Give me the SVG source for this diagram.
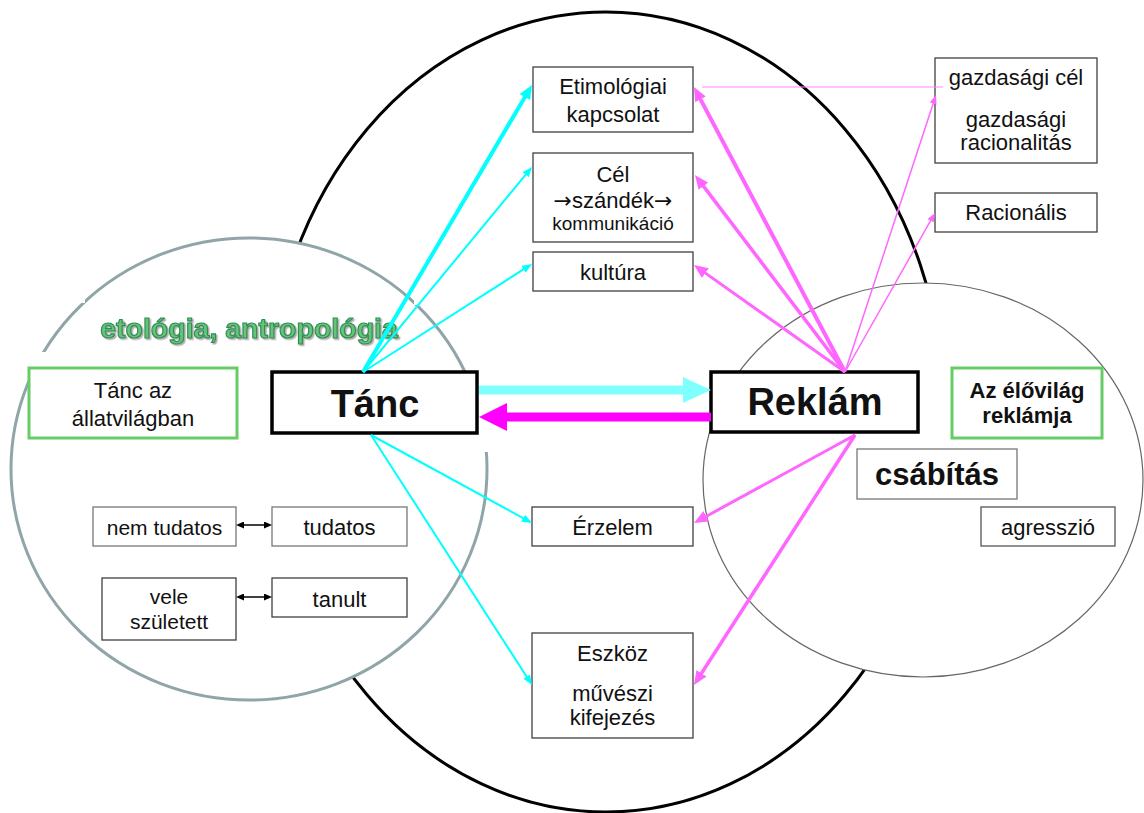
<svg xmlns="http://www.w3.org/2000/svg" width="1144" height="813" viewBox="0 0 1144 813">
<defs>
<style>
text{font-family:"Liberation Sans",Arial,sans-serif;fill:#111;text-anchor:middle}
.t22{font-size:22px}
.t21{font-size:21px}
.t19{font-size:19px}
.arr{font-family:"DejaVu Sans",sans-serif}
.box{fill:#fff;stroke:#404040;stroke-width:1.3}
.green{fill:#fff;stroke:#66cc66;stroke-width:3}
.main{fill:#fff;stroke:#000;stroke-width:3.5}
.bold{font-weight:bold}
.cy{stroke:#00ffff;fill:none}
.pk{stroke:#ff66ff;fill:none}
</style>
<marker id="cyanBig" markerUnits="userSpaceOnUse" markerWidth="14" markerHeight="12" refX="6" refY="6" orient="auto"><path d="M0,0 L14,6 L0,12 z" fill="#00ffff"/></marker>
<marker id="cyanSm" markerUnits="userSpaceOnUse" markerWidth="10" markerHeight="8" refX="4" refY="4" orient="auto"><path d="M0,0 L10,4 L0,8 z" fill="#00ffff"/></marker>
<marker id="pinkBig" markerUnits="userSpaceOnUse" markerWidth="14" markerHeight="12" refX="6" refY="6" orient="auto"><path d="M0,0 L14,6 L0,12 z" fill="#ff66ff"/></marker>
<marker id="pinkSm" markerUnits="userSpaceOnUse" markerWidth="9" markerHeight="7" refX="3" refY="3.5" orient="auto"><path d="M0,0 L9,3.5 L0,7 z" fill="#ff66ff"/></marker>
<marker id="cyanHuge" markerUnits="userSpaceOnUse" markerWidth="28" markerHeight="26" refX="1" refY="13" orient="auto"><path d="M0,0 L28,13 L0,26 z" fill="#80ffff"/></marker>
<marker id="magHuge" markerUnits="userSpaceOnUse" markerWidth="28" markerHeight="28" refX="1" refY="14" orient="auto"><path d="M0,0 L28,14 L0,28 z" fill="#ff00ff"/></marker>
<marker id="blk" markerUnits="userSpaceOnUse" markerWidth="8" markerHeight="7" refX="2" refY="3.5" orient="auto-start-reverse"><path d="M0,0 L8,3.5 L0,7 z" fill="#000"/></marker>
<filter id="shadow" x="-5%" y="-20%" width="110%" height="150%"><feDropShadow dx="1.5" dy="1.5" stdDeviation="0.6" flood-color="#999" flood-opacity="0.8"/></filter>
</defs>
<rect width="1144" height="813" fill="#fff"/>

<g id="bigEllipse"><ellipse cx="606" cy="412" rx="338" ry="400" fill="#fff" stroke="#000" stroke-width="3"/></g>

<g id="tancCircle">
<ellipse cx="249" cy="469" rx="238" ry="231" fill="#fff" stroke="#8fa5a8" stroke-width="3"/>
<rect x="476" y="352" width="22" height="100" fill="#fff"/>
<rect x="0" y="352" width="48" height="26" fill="#fff"/>
<rect x="79" y="296" width="6" height="7" fill="#fff"/>
<rect x="414" y="298" width="6" height="7" fill="#fff"/>
</g>

<g id="reklamCircle"><ellipse cx="923" cy="480" rx="220" ry="197" fill="#fff" stroke="#666" stroke-width="1.2"/></g>

<g id="etologia"><text x="249" y="338" class="bold" style="font-size:28.5px;fill:#66c47a;stroke:#2f8f55;stroke-width:1.2" filter="url(#shadow)">etológia, antropológia</text></g>

<g id="etimologiai"><rect class="box" x="533" y="67" width="160" height="65"/><text class="t22" x="613" y="94">Etimológiai</text><text class="t22" x="613" y="122">kapcsolat</text></g>
<g id="cel"><rect class="box" x="533" y="153" width="160" height="89"/><text class="t22" x="613" y="182">Cél</text><text class="t22" x="613" y="208"><tspan class="arr">→</tspan>szándék<tspan class="arr">→</tspan></text><text class="t19" x="613" y="230">kommunikáció</text></g>
<g id="kultura"><rect class="box" x="533" y="252" width="160" height="39"/><text class="t22" x="613" y="280">kultúra</text></g>
<g id="gazdasagi"><rect class="box" x="935" y="58" width="162" height="105"/><text class="t22" x="1016" y="85">gazdasági cél</text><text class="t22" x="1016" y="127">gazdasági</text><text class="t22" x="1016" y="150">racionalitás</text></g>
<g id="racionalis"><rect class="box" x="935" y="193" width="162" height="39"/><text class="t22" x="1016" y="220">Racionális</text></g>
<g id="tancAllat"><rect class="green" x="29" y="368" width="208" height="70"/><text class="t22" x="133" y="398">Tánc az</text><text class="t22" x="133" y="426">állatvilágban</text></g>
<g id="tanc"><rect class="main" x="272" y="372" width="205" height="61"/><text class="bold" style="font-size:38px" x="375" y="417">Tánc</text></g>
<g id="reklam"><rect class="main" x="711" y="372" width="207" height="60"/><text class="bold" style="font-size:38px" x="815" y="415">Reklám</text></g>
<g id="elovilag"><rect class="green" x="952" y="368" width="150" height="70"/><text class="bold t22" x="1027" y="398">Az élővilág</text><text class="bold t22" x="1027" y="423">reklámja</text></g>
<g id="csabitas"><rect class="box" x="857" y="449" width="160" height="50" style="stroke:#777"/><text class="bold" style="font-size:31px" x="937" y="485">csábítás</text></g>
<g id="agresszio"><rect class="box" x="981" y="507" width="134" height="39" style="stroke:#555"/><text class="t22" x="1048" y="535">agresszió</text></g>
<g id="nemTudatos"><rect class="box" x="93" y="507" width="143" height="39" style="stroke:#777"/><text class="t21" x="164.5" y="535">nem tudatos</text></g>
<g id="tudatos"><rect class="box" x="272" y="507" width="135" height="39" style="stroke:#777"/><text class="t22" x="339.5" y="535">tudatos</text></g>
<g id="veleSzuletett"><rect class="box" x="102" y="578" width="134" height="62"/><text class="t21" x="169" y="604">vele</text><text class="t21" x="169" y="629">született</text></g>
<g id="tanult"><rect class="box" x="272" y="578" width="135" height="39"/><text class="t22" x="339.5" y="607">tanult</text></g>
<g id="erzelem"><rect class="box" x="532" y="507" width="161" height="39"/><text class="t22" x="612.5" y="535">Érzelem</text></g>
<g id="eszkoz"><rect class="box" x="532" y="633" width="161" height="105"/><text class="t22" x="612.5" y="661">Eszköz</text><text class="t22" x="612.5" y="701">művészi</text><text class="t22" x="612.5" y="725">kifejezés</text></g>

<g id="connectors">
<line x1="479" y1="390" x2="684" y2="390" stroke="#80ffff" stroke-width="9" marker-end="url(#cyanHuge)"/>
<line x1="711" y1="417" x2="506" y2="417" stroke="#ff00ff" stroke-width="9" marker-end="url(#magHuge)"/>
<line class="cy" x1="363" y1="372" x2="527.9" y2="91.9" stroke-width="4" marker-end="url(#cyanBig)"/>
<line class="cy" x1="363" y1="372" x2="528.2" y2="171.6" stroke-width="2" marker-end="url(#cyanSm)"/>
<line class="cy" x1="363" y1="372" x2="526.9" y2="267.2" stroke-width="2" marker-end="url(#cyanSm)"/>
<line class="cy" x1="371" y1="435" x2="526.7" y2="520.1" stroke-width="2" marker-end="url(#cyanSm)"/>
<line class="cy" x1="371" y1="435" x2="528.8" y2="680.0" stroke-width="2" marker-end="url(#cyanSm)"/>
<line x1="702" y1="87" x2="943" y2="87" stroke="#ff88ff" stroke-width="1"/>
<line class="pk" x1="845" y1="372" x2="697.7" y2="94.1" stroke-width="4" marker-end="url(#pinkBig)"/>
<line class="pk" x1="845" y1="372" x2="699.8" y2="181.4" stroke-width="3.5" marker-end="url(#pinkBig)"/>
<line class="pk" x1="845" y1="372" x2="700.5" y2="269.6" stroke-width="3" marker-end="url(#pinkBig)"/>
<line class="pk" x1="845" y1="372" x2="934.1" y2="100.7" stroke-width="1.5" marker-end="url(#pinkSm)"/>
<line class="pk" x1="845" y1="372" x2="932.0" y2="218.2" stroke-width="1.5" marker-end="url(#pinkSm)"/>
<line class="pk" x1="855" y1="435" x2="701.0" y2="519.2" stroke-width="3" marker-end="url(#pinkBig)"/>
<line class="pk" x1="855" y1="435" x2="698.3" y2="678.3" stroke-width="3.5" marker-end="url(#pinkBig)"/>
<line x1="242" y1="525" x2="266" y2="525" stroke="#000" stroke-width="1.5" marker-start="url(#blk)" marker-end="url(#blk)"/>
<line x1="242" y1="597" x2="266" y2="597" stroke="#000" stroke-width="1.5" marker-start="url(#blk)" marker-end="url(#blk)"/>
</g>
</svg>
